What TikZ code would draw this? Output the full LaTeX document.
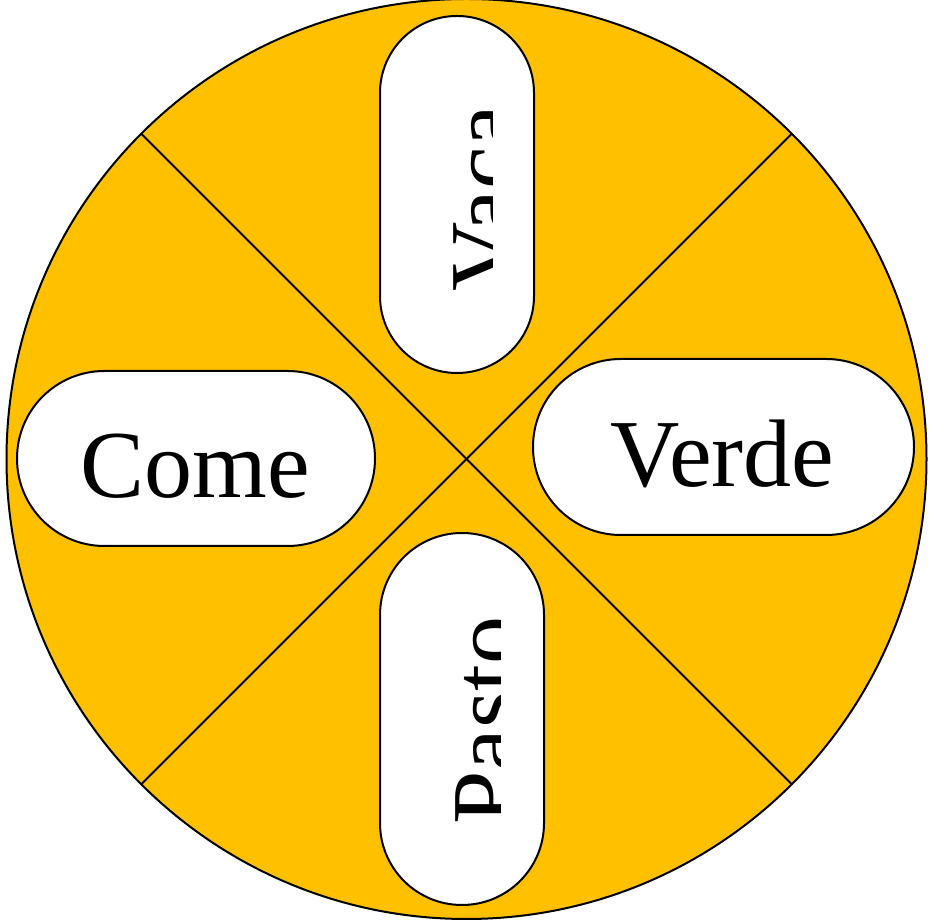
\documentclass[tikz,border=0pt]{standalone}
\usepackage{fontspec}
\setmainfont{Liberation Serif}
\usetikzlibrary{calc}
\definecolor{gold}{HTML}{FFC000}
\tikzset{
  wheel/.style={draw=black, line width=2pt, fill=gold},
  spoke/.style={draw=black, line width=2pt},
  pill/.style={draw=black, line width=2pt, fill=white, rectangle, inner sep=0pt, outer sep=0pt},
  word/.style={inner sep=0pt, font=\fontsize{96}{110}\selectfont, text=black},
}
\begin{document}
\begin{tikzpicture}[x=1pt,y=1pt]
\useasboundingbox (0,0) rectangle (929,920);
\coordinate (c) at (466.5,461);
\draw[wheel] (c) circle (460);
\coordinate (nw) at ($(c)+(135:460)$);
\coordinate (se) at ($(c)+(-45:460)$);
\coordinate (ne) at ($(c)+(45:460)$);
\coordinate (sw) at ($(c)+(-135:460)$);
\draw[spoke] (nw) -- (se);
\draw[spoke] (ne) -- (sw);
% pills
\node[pill, rounded corners=76.9pt, minimum width=154pt, minimum height=357pt] (vacapill) at (457,725.5) {};
\node[pill, rounded corners=81.9pt, minimum width=164pt, minimum height=372pt] (pastopill) at (462,201) {};
\node[pill, rounded corners=87.4pt, minimum width=358pt, minimum height=175pt] (comepill) at (196,461.5) {};
\node[pill, rounded corners=87.9pt, minimum width=381pt, minimum height=176pt] (verdepill) at (723.5,473) {};
% words
\node[word, anchor=base] (come) at (195,422) {Come};
\node[word, anchor=base] (verde) at (722.5,433) {Verde};
\begin{scope}
  \clip (0,0) rectangle (492,920);
  \node[word, rotate=90, anchor=base] (vaca) at (516,722) {Vaca};
\end{scope}
\begin{scope}
  \clip (0,0) rectangle (500,920);
  \node[word, rotate=90, anchor=base] (pasto) at (518,199.5) {Pasto};
\end{scope}
\end{tikzpicture}
\end{document}
